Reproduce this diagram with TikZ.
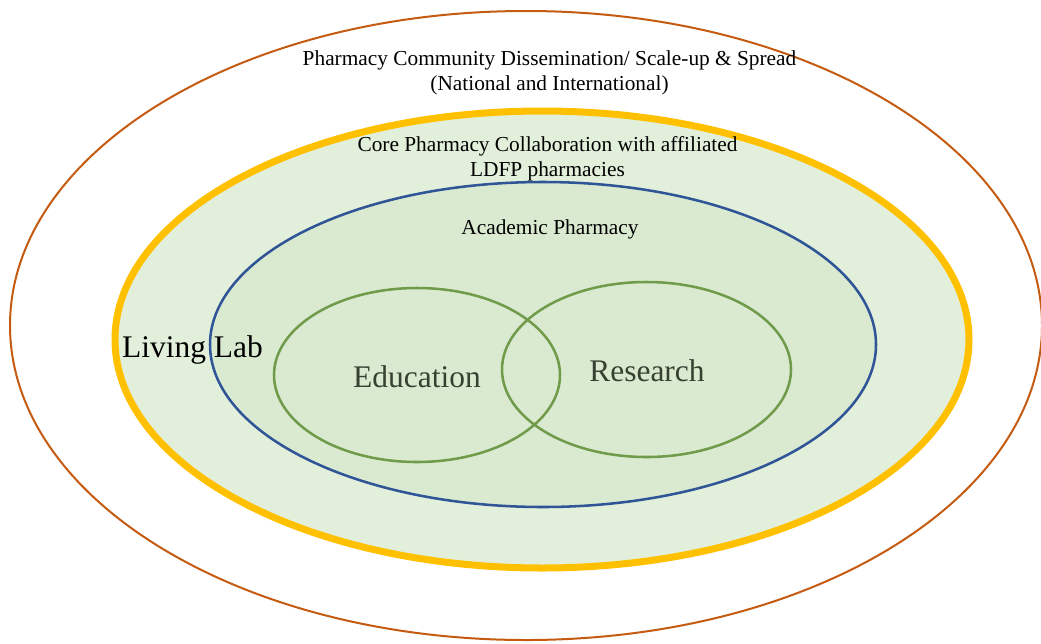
\documentclass[tikz,border=0pt]{standalone}
\usepackage{fontspec}
\setmainfont{Liberation Serif}
\usetikzlibrary{shapes.geometric}
\usetikzlibrary{positioning}
\definecolor{spreadorange}{RGB}{197,90,17}
\definecolor{labyellow}{RGB}{255,192,0}
\definecolor{labfill}{RGB}{226,239,218}
\definecolor{acadblue}{RGB}{47,85,151}
\definecolor{acadfill}{RGB}{218,234,209}
\definecolor{vennline}{RGB}{112,155,75}
\definecolor{venntext}{RGB}{55,65,50}
\tikzset{ring/.style={ellipse, inner sep=0pt, outer sep=0pt},
smalltext/.style={align=center, font=\fontsize{16}{18.75}\selectfont},
bigtext/.style={font=\fontsize{23.6}{28}\selectfont}}

\begin{document}
\begin{tikzpicture}[x=0.75pt,y=-0.75pt]
\useasboundingbox (0,0) rectangle (1041,643);
\node (spread) [ring, minimum width=774pt, minimum height=471.75pt, draw=spreadorange, line width=1.5pt] at (526,325.5) {};
\node (lab) [ring, minimum width=640.5pt, minimum height=342.75pt, draw=labyellow, fill=labfill, line width=5.25pt] at (542,339.5) {};
\node (acad) [ring, minimum width=499.5pt, minimum height=243.75pt, draw=acadblue, fill=acadfill, line width=1.9pt] at (543,344.5) {};
\node (edu) [ring, minimum width=214.5pt, minimum height=130.5pt, draw=vennline, line width=1.9pt] at (417,375) {};
\node (res) [ring, minimum width=216.75pt, minimum height=131.25pt, draw=vennline, line width=1.9pt] at (646.5,369.5) {};

\node (spreadtext) [smalltext] at (549.5,73) {Pharmacy Community Dissemination/ Scale-up \& Spread\\(National and International)};
\node (labtext) [smalltext] at (547.5,159) {Core Pharmacy Collaboration with affiliated\\LDFP pharmacies};
\node (acadtext) [smalltext] at (550,229) {Academic Pharmacy};
\node (labname) [bigtext] at (192.5,350) {Living Lab};
\node (edutext) [bigtext, text=venntext] at (417,377) {Education};
\node (restext) [bigtext, text=venntext] at (647,371) {Research};
\end{tikzpicture}
\end{document}
